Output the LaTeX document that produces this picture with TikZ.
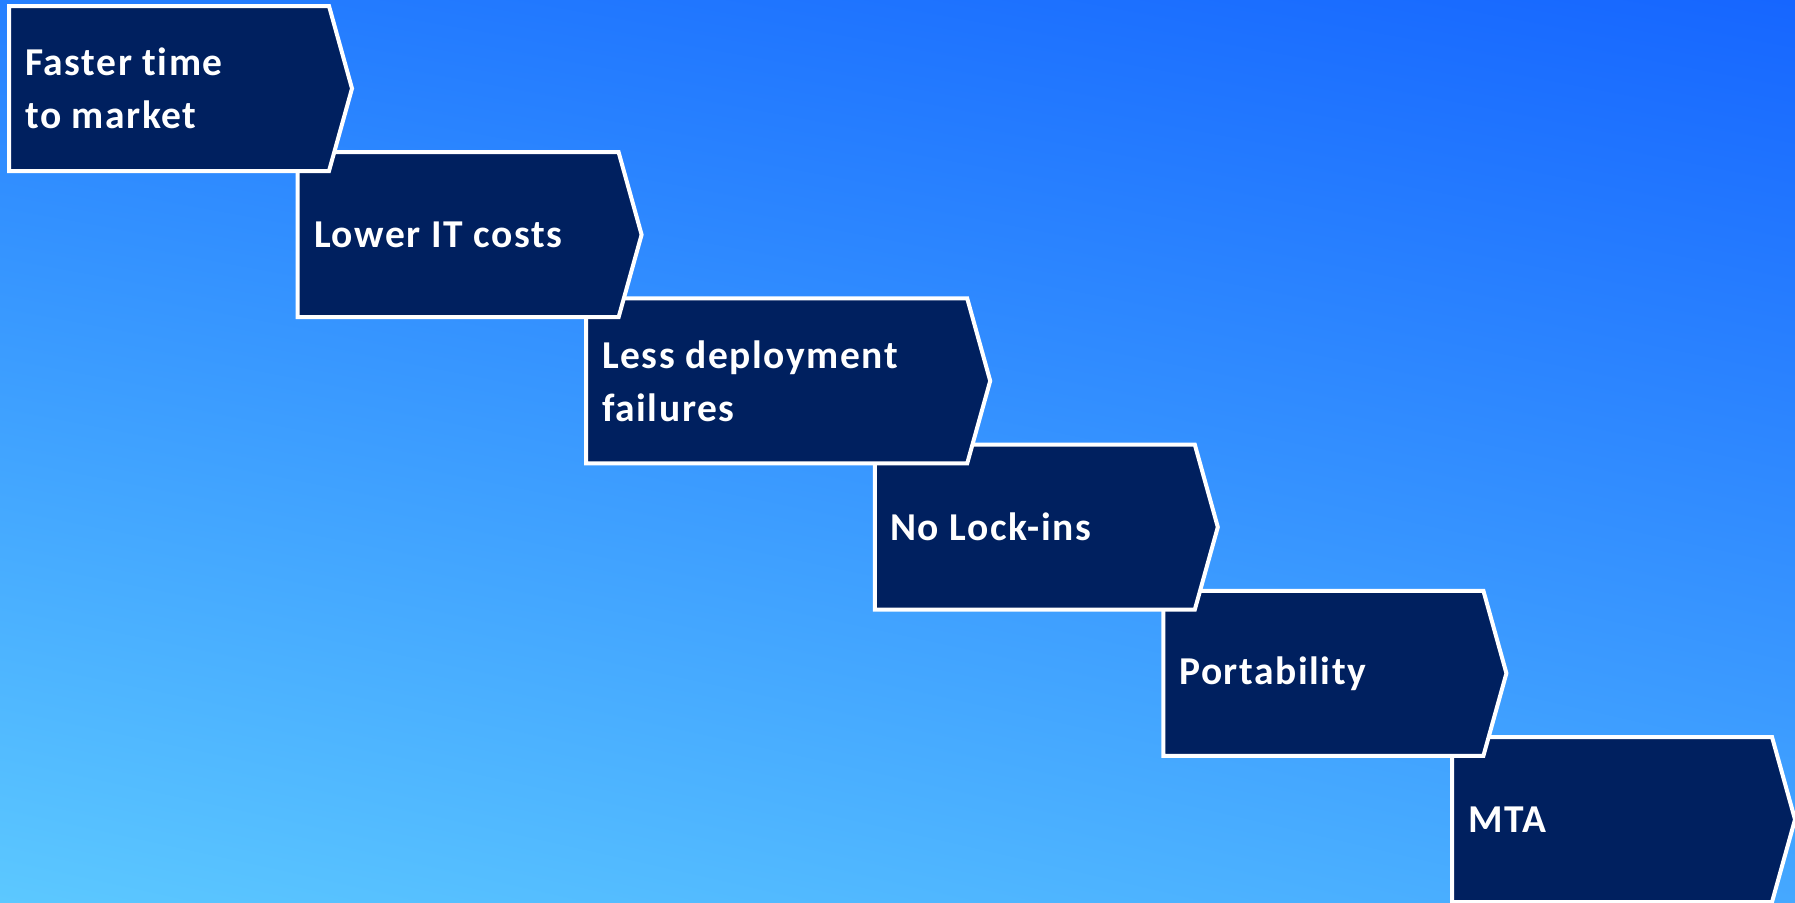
\documentclass[tikz,border=0pt]{standalone}
\usepackage{fontspec}
\setmainfont{Carlito}[LetterSpace=4,Ligatures=NoCommon]
\usepackage{tikz}
\usetikzlibrary{shadings}
\definecolor{navy}{HTML}{00205F}
\definecolor{bgul}{HTML}{2680FF}
\definecolor{bgur}{HTML}{1666FF}
\definecolor{bgll}{HTML}{5CC8FF}
\definecolor{bglr}{HTML}{45A8FF}

\begin{document}
\begin{tikzpicture}[x=1pt,y=-1pt]
		\tikzstyle{stepbox}=[draw=white,fill=navy,line width=4pt,line join=miter]
		\tikzstyle{steptext}=[anchor=west,inner sep=0pt,text=white,align=left,font=\fontsize{39.5}{53}\selectfont\bfseries]
		
		\clip (0,0) rectangle (1795,902);
		\shade[upper left=bgul,upper right=bgur,lower left=bgll,lower right=bglr] (0,0) rectangle (1795,902);
		
		% boxes from last to first, so each one lies over the next
		\draw[stepbox] (1452,737) -- ++(320,0) -- ++(23,82.5) -- ++(-23,82.5) -- ++(-320,0) -- cycle;
		\draw[stepbox] (1163.4,590.8) -- ++(320,0) -- ++(23,82.5) -- ++(-23,82.5) -- ++(-320,0) -- cycle;
		\draw[stepbox] (874.8,444.6) -- ++(320,0) -- ++(23,82.5) -- ++(-23,82.5) -- ++(-320,0) -- cycle;
		\draw[stepbox] (586.2,298.4) -- ++(381,0) -- ++(23,82.5) -- ++(-23,82.5) -- ++(-381,0) -- cycle;
		\draw[stepbox] (297.6,152.2) -- ++(321,0) -- ++(23,82.5) -- ++(-23,82.5) -- ++(-321,0) -- cycle;
		\draw[stepbox] (9,6) -- ++(320,0) -- ++(23,82.5) -- ++(-23,82.5) -- ++(-320,0) -- cycle;
		
		\node[steptext] (ftm) at (25,88.5) {Faster time\\to market};
		\node[steptext] (cost) at (314,234.7) {Lower IT costs};
		\node[steptext] (fail) at (602,380.9) {Less deployment\\failures};
		\node[steptext] (lock) at (890,527.1) {No Lock-ins};
		\node[steptext] (port) at (1179,673.3) {Portability};
		\node[steptext] (mta) at (1468,819.5) {MTA};
\end{tikzpicture}
\end{document}
